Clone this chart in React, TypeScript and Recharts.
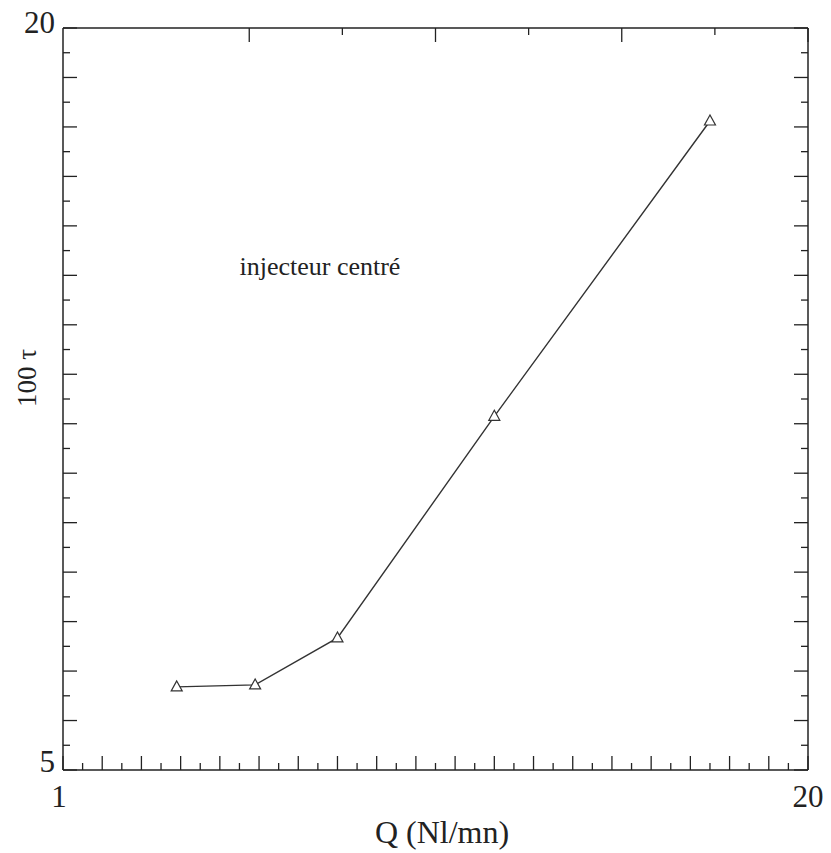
import React from "react"
import { LineChart, Line, XAxis, YAxis, ReferenceDot } from "recharts"

// flow rate Q (Nl/mn) and 100·tau
const Q_VALUES = [3.9, 5.9, 8.0, 12.0, 17.5]
const TAU_VALUES = [6.68, 6.72, 7.67, 12.15, 18.12]

const X_DOMAIN = [1, 20]
const Y_DOMAIN = [5, 20]
const X_LABELS: Record<number, string> = { 1: "1", 20: "20" }
const Y_LABELS: Record<number, string> = { 5: "5", 20: "20" }

// half-unit ticks, long on integers
const halfSteps = (from: number, to: number) => {
  const out: number[] = []
  for (let v = from * 2; v <= to * 2; v++) out.push(v / 2)
  return out
}
const X_TICKS = halfSteps(X_DOMAIN[0], X_DOMAIN[1])
const Y_TICKS = halfSteps(Y_DOMAIN[0], Y_DOMAIN[1])

const data = Q_VALUES.map((q, i) => ({ q, tau: TAU_VALUES[i] }))

const FONT = "'Liberation Serif', 'Times New Roman', serif"
const INK = "#222"
const LONG = 14
const SHORT = 7
const textStyle = (size: number) => ({ fontFamily: FONT, fontSize: size, fill: INK })

const BottomTick = ({ x, y, payload }: any) => {
  const v = payload.value
  const len = Number.isInteger(v) ? LONG : SHORT
  const label = X_LABELS[v]
  return (
    <g>
      <line x1={x} y1={y} x2={x} y2={y - len} stroke={INK} strokeWidth={1.3} />
      {label && (
        <text x={v === 1 ? x - 4 : x} y={y + 37} textAnchor="middle" style={textStyle(31)}>
          {label}
        </text>
      )}
    </g>
  )
}

const TopTick = ({ x, y, payload }: any) => {
  const len = Number.isInteger(payload.value) ? LONG : SHORT
  return <line x1={x} y1={y} x2={x} y2={y + len} stroke={INK} strokeWidth={1.3} />
}

const LeftTick = ({ x, y, payload }: any) => {
  const v = payload.value
  const len = Number.isInteger(v) ? LONG : SHORT
  const label = Y_LABELS[v]
  return (
    <g>
      <line x1={x} y1={y} x2={x + len} y2={y} stroke={INK} strokeWidth={1.3} />
      {label && (
        <text x={x - 8} y={v === 20 ? y + 5 : y + 2} textAnchor="end" style={textStyle(31)}>
          {label}
        </text>
      )}
    </g>
  )
}

const RightTick = ({ x, y, payload }: any) => {
  const len = Number.isInteger(payload.value) ? LONG : SHORT
  return <line x1={x} y1={y} x2={x - len} y2={y} stroke={INK} strokeWidth={1.3} />
}

const Triangle = ({ cx, cy }: any) => {
  if (cx == null || cy == null) return null
  return (
    <polygon
      points={`${cx},${cy - 6} ${cx - 5.5},${cy + 4} ${cx + 5.5},${cy + 4}`}
      fill="#fff"
      stroke="#333"
      strokeWidth={1.2}
    />
  )
}

const Annotation = ({ cx, cy }: any) => (
  <text x={cx} y={cy} style={textStyle(26)}>
    injecteur centré
  </text>
)

const axisLine = { stroke: INK, strokeWidth: 1.5 }

export default function App() {
  return (
    <div style={{ position: "absolute", left: 0, top: 0, background: "#fff" }}>
      <LineChart width={831} height={853} data={data} margin={{ top: 0, right: 0, bottom: 0, left: 0 }}>
        <XAxis
          xAxisId="bottom"
          dataKey="q"
          type="number"
          domain={X_DOMAIN}
          allowDataOverflow
          ticks={X_TICKS}
          interval={0}
          height={83}
          tickSize={0}
          tickMargin={0}
          tickLine={false}
          axisLine={axisLine}
          tick={<BottomTick />}
          label={{
            content: ({ viewBox }: any) => (
              <text x={442} y={(viewBox?.y ?? 770) + 73} textAnchor="middle" style={textStyle(32)}>
                Q (Nl/mn)
              </text>
            ),
          }}
        />
        <XAxis
          xAxisId="top"
          orientation="top"
          type="number"
          domain={X_DOMAIN}
          allowDataOverflow
          ticks={X_TICKS}
          interval={0}
          height={28}
          tickSize={0}
          tickMargin={0}
          tickLine={false}
          axisLine={axisLine}
          tick={<TopTick />}
        />
        <YAxis
          yAxisId="left"
          type="number"
          domain={Y_DOMAIN}
          allowDataOverflow
          ticks={Y_TICKS}
          interval={0}
          width={63}
          tickSize={0}
          tickMargin={0}
          tickLine={false}
          axisLine={axisLine}
          tick={<LeftTick />}
          label={{
            content: () => {
              const cx = 27
              const cy = 378
              return (
                <text
                  x={cx}
                  y={cy}
                  transform={`rotate(-90 ${cx} ${cy})`}
                  textAnchor="middle"
                  dominantBaseline="central"
                  style={textStyle(27)}
                >
                  100 τ
                </text>
              )
            },
          }}
        />
        <YAxis
          yAxisId="right"
          orientation="right"
          type="number"
          domain={Y_DOMAIN}
          allowDataOverflow
          ticks={Y_TICKS}
          interval={0}
          width={23}
          tickSize={0}
          tickMargin={0}
          tickLine={false}
          axisLine={axisLine}
          tick={<RightTick />}
        />
        <ReferenceDot xAxisId="bottom" yAxisId="left" x={5.5} y={15.0} r={0} shape={<Annotation />} />
        <Line
          xAxisId="bottom"
          yAxisId="left"
          dataKey="tau"
          type="linear"
          stroke="#333"
          strokeWidth={1.4}
          dot={<Triangle />}
          activeDot={false}
          isAnimationActive={false}
        />
      </LineChart>
    </div>
  )
}
